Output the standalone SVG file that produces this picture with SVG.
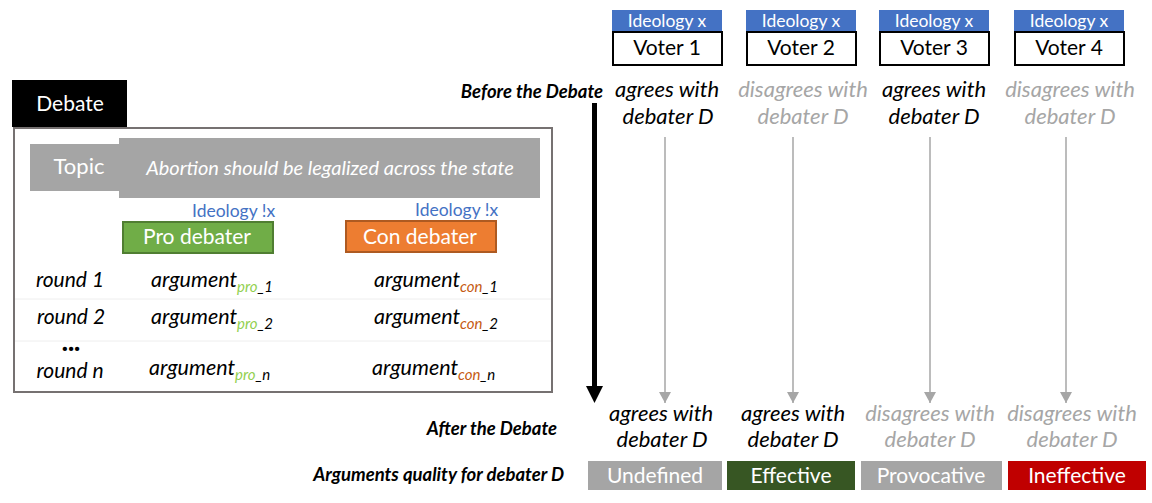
<svg xmlns="http://www.w3.org/2000/svg" width="1152" height="503" viewBox="0 0 1152 503">
<style>
text{font-family:Lato,"Liberation Sans",sans-serif}
.w{fill:#fff}
.c{text-anchor:middle}
.i{font-style:italic}
.bi{font-style:italic;font-weight:bold;font-size:18.5px;text-anchor:end}
.arg{font-style:italic;font-size:21.5px;fill:#000}
.sub{font-size:15px}
.rd{font-style:italic;font-size:21px;text-anchor:middle}
.st{font-style:italic;font-size:22px;text-anchor:middle}
.gr{fill:#a6a6a6}
.ideo{font-size:17.5px;fill:#4472c4}
.vh{fill:#4472c4}
.vb{fill:#fff;stroke:#000;stroke-width:2}
.gline{stroke:#a6a6a6;stroke-width:1.5;fill:none}
</style>
<defs>
<marker id="ga" markerWidth="12" markerHeight="12" viewBox="0 0 12 12" refX="11" refY="6" orient="auto" markerUnits="userSpaceOnUse"><path d="M0,0 L11,6 L0,12 Z" fill="#a6a6a6"/></marker>
</defs>
<rect width="1152" height="503" fill="#fff"/>

<g id="debate">
<rect x="12" y="80" width="115" height="47" fill="#000"/>
<text x="70" y="111" class="w c" font-size="21">Debate</text>
<rect x="14" y="128" width="538" height="264" fill="none" stroke="#767171" stroke-width="2"/>
<line x1="15" y1="299" x2="551" y2="299" stroke="#eeeeee" stroke-width="1"/>
<line x1="15" y1="341" x2="551" y2="341" stroke="#eeeeee" stroke-width="1"/>
</g>

<g id="topic">
<rect x="30" y="144" width="90" height="47" fill="#a5a5a5"/>
<rect x="119" y="138" width="421" height="60" fill="#a5a5a5"/>
<text x="79" y="174" class="w c" font-size="22">Topic</text>
<text x="330" y="175" class="w c i" font-size="20">Abortion should be legalized across the state</text>
</g>

<g id="pro">
<text x="192" y="217" class="ideo">Ideology !x</text>
<rect x="123" y="222" width="150" height="31" fill="#70ad47" stroke="#507e32" stroke-width="2"/>
<text x="197" y="244" class="w c" font-size="21">Pro debater</text>
</g>

<g id="con">
<text x="415" y="216" class="ideo">Ideology !x</text>
<rect x="346" y="221" width="150" height="31" fill="#ed7d31" stroke="#ae5a21" stroke-width="2"/>
<text x="420" y="244" class="w c" font-size="21">Con debater</text>
</g>

<g id="rounds">
<text x="70" y="287" class="rd">round 1</text>
<text x="71" y="324" class="rd">round 2</text>
<text x="71" y="351" class="c" font-size="26" font-weight="900">...</text>
<text x="70" y="378" class="rd">round n</text>
<text x="151" y="287" class="arg">argument<tspan class="sub" dy="5" fill="#92d050">pro</tspan><tspan class="sub">_1</tspan></text>
<text x="151" y="324" class="arg">argument<tspan class="sub" dy="5" fill="#92d050">pro</tspan><tspan class="sub">_2</tspan></text>
<text x="149" y="375" class="arg">argument<tspan class="sub" dy="5" fill="#92d050">pro</tspan><tspan class="sub">_n</tspan></text>
<text x="374" y="287" class="arg">argument<tspan class="sub" dy="5" fill="#c55a11">con</tspan><tspan class="sub">_1</tspan></text>
<text x="374" y="324" class="arg">argument<tspan class="sub" dy="5" fill="#c55a11">con</tspan><tspan class="sub">_2</tspan></text>
<text x="372" y="375" class="arg">argument<tspan class="sub" dy="5" fill="#c55a11">con</tspan><tspan class="sub">_n</tspan></text>
</g>

<g id="labels">
<text x="603" y="98" class="bi">Before the Debate</text>
<text x="557" y="435" class="bi">After the Debate</text>
<text x="564" y="481" class="bi">Arguments quality for debater D</text>
</g>

<g id="voter1">
<rect x="612" y="10" width="110" height="22" class="vh"/>
<text x="667" y="27" class="w c" font-size="17.5">Ideology x</text>
<rect x="613" y="32" width="109" height="33" class="vb"/>
<text x="667" y="55" class="c" font-size="21">Voter 1</text>
<text x="667" y="97" class="st">agrees with</text>
<text x="668" y="124" class="st">debater D</text>
</g>
<g id="voter2">
<rect x="746" y="10" width="110" height="22" class="vh"/>
<text x="801" y="27" class="w c" font-size="17.5">Ideology x</text>
<rect x="747" y="32" width="109" height="33" class="vb"/>
<text x="801" y="55" class="c" font-size="21">Voter 2</text>
<text x="803" y="97" class="st gr">disagrees with</text>
<text x="803" y="124" class="st gr">debater D</text>
</g>
<g id="voter3">
<rect x="879" y="10" width="110" height="22" class="vh"/>
<text x="934" y="27" class="w c" font-size="17.5">Ideology x</text>
<rect x="880" y="32" width="109" height="33" class="vb"/>
<text x="934" y="55" class="c" font-size="21">Voter 3</text>
<text x="934" y="97" class="st">agrees with</text>
<text x="934" y="124" class="st">debater D</text>
</g>
<g id="voter4">
<rect x="1014" y="10" width="110" height="22" class="vh"/>
<text x="1069" y="27" class="w c" font-size="17.5">Ideology x</text>
<rect x="1015" y="32" width="109" height="33" class="vb"/>
<text x="1069" y="55" class="c" font-size="21">Voter 4</text>
<text x="1070" y="97" class="st gr">disagrees with</text>
<text x="1070" y="124" class="st gr">debater D</text>
</g>

<g id="connectors">
<line x1="594.5" y1="103" x2="594.5" y2="388" stroke="#000" stroke-width="5"/>
<path d="M586,386 L603,386 L594.5,403 Z" fill="#000"/>
<line x1="665" y1="137" x2="665" y2="403" class="gline" marker-end="url(#ga)"/>
<line x1="793" y1="137" x2="793" y2="403" class="gline" marker-end="url(#ga)"/>
<line x1="930" y1="137" x2="930" y2="403" class="gline" marker-end="url(#ga)"/>
<line x1="1066" y1="137" x2="1066" y2="403" class="gline" marker-end="url(#ga)"/>
</g>

<g id="after">
<text x="661" y="421" class="st">agrees with</text>
<text x="662" y="447" class="st">debater D</text>
<text x="793" y="421" class="st">agrees with</text>
<text x="793" y="447" class="st">debater D</text>
<text x="930" y="421" class="st gr">disagrees with</text>
<text x="930" y="447" class="st gr">debater D</text>
<text x="1072" y="421" class="st gr">disagrees with</text>
<text x="1072" y="447" class="st gr">debater D</text>
</g>

<g id="quality">
<rect x="588" y="461" width="134" height="29" fill="#a5a5a5"/>
<text x="655" y="483" class="w c" font-size="21">Undefined</text>
<rect x="727" y="461" width="128" height="29" fill="#375623"/>
<text x="791" y="483" class="w c" font-size="21">Effective</text>
<rect x="861" y="461" width="141" height="29" fill="#a5a5a5"/>
<text x="931" y="483" class="w c" font-size="21">Provocative</text>
<rect x="1008" y="461" width="138" height="29" fill="#c00000"/>
<text x="1077" y="483" class="w c" font-size="21">Ineffective</text>
</g>
</svg>
